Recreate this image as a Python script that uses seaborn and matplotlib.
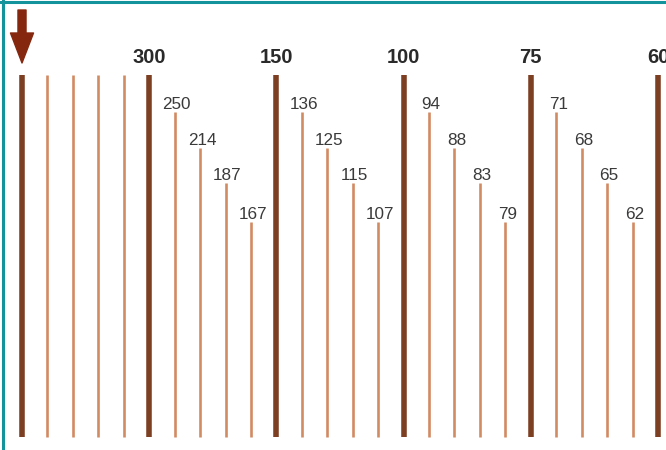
import pandas as pd
import seaborn as sns
import matplotlib.pyplot as plt
from matplotlib.lines import Line2D

# line index, height of each line (px above baseline), label, major/minor
positions = list(range(26))
heights = [362, 362, 362, 362, 362,
           362, 325, 289, 254, 215,
           362, 325, 289, 254, 215,
           362, 325, 289, 254, 215,
           362, 325, 289, 254, 215,
           362]
labels = ["", "", "", "", "",
          "300", "250", "214", "187", "167",
          "150", "136", "125", "115", "107",
          "100", "94", "88", "83", "79",
          "75", "71", "68", "65", "62",
          "60"]
major = [i % 5 == 0 for i in positions]

df = pd.DataFrame({"pos": positions, "height": heights, "label": labels, "major": major})

sns.set_theme(style="white")
plt.rcParams['font.family'] = ['Liberation Sans', 'DejaVu Sans']

fig = plt.figure(figsize=(6.66, 4.5), dpi=100)
ax = fig.add_axes([0, 0, 1, 1])

dark = "#7d3f22"
light = "#d18b62"

minor_df = df[~df["major"]]
major_df = df[df["major"]]
ax.vlines(minor_df["pos"], 0, minor_df["height"], color=light, lw=1.9)
ax.vlines(major_df["pos"], 0, major_df["height"], color=dark, lw=4.0)

for _, r in df.iterrows():
    if not r["label"]:
        continue
    if r["major"]:
        ax.text(r["pos"], r["height"] + 12, r["label"], ha="center", va="baseline",
                fontsize=14.5, fontweight="bold", color="#2a2a2a")
    else:
        ax.text(r["pos"] + 0.08, r["height"] + 3, r["label"], ha="center", va="baseline",
                fontsize=12.3, color="#3a3a3a")

# arrow over the first line
ax.annotate("", xy=(0, 374), xytext=(0, 427),
            arrowprops=dict(arrowstyle="simple,head_width=0.83,head_length=1.08,tail_width=0.29",
                            mutation_scale=20, color="#85270f", shrinkA=0, shrinkB=0))

ax.set_xlim(-22 / 25.44, 25 + 8 / 25.44)
ax.set_ylim(-13, 437)
ax.axis("off")

# teal frame on top and left
teal = "#13939b"
fig.add_artist(Line2D([0, 1], [1 - 1.5 / 450, 1 - 1.5 / 450], color=teal, lw=2.2, transform=fig.transFigure))
fig.add_artist(Line2D([2.5 / 666, 2.5 / 666], [0, 1], color=teal, lw=2.2, transform=fig.transFigure))

fig.savefig("out.png", dpi=100)
